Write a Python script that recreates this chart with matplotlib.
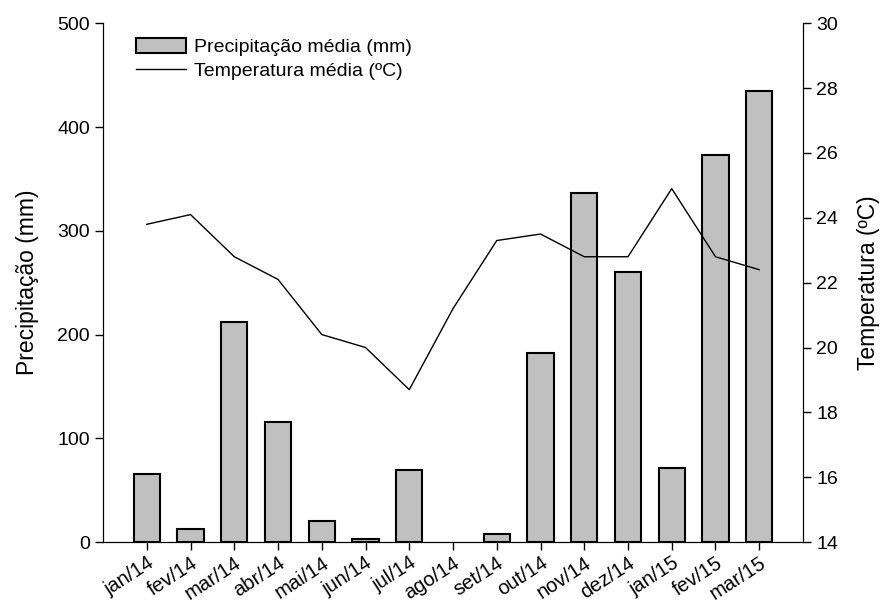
import numpy as np
import matplotlib
matplotlib.use("Agg")
import matplotlib.pyplot as plt

plt.rcParams['font.family'] = ['Liberation Sans', 'DejaVu Sans']

# Data
months = ["jan/14", "fev/14", "mar/14", "abr/14", "mai/14", "jun/14", "jul/14",
          "ago/14", "set/14", "out/14", "nov/14", "dez/14", "jan/15", "fev/15", "mar/15"]
precip = [66, 13, 212, 116, 20, 3, 69, 0, 8, 182, 336, 260, 71, 373, 435]
temp = [23.8, 24.1, 22.8, 22.1, 20.4, 20.0, 18.7, 21.2, 23.3, 23.5,
        22.8, 22.8, 24.9, 22.8, 22.4]

x = np.arange(len(months))

fig = plt.figure(figsize=(8.86, 6.04), dpi=100)
ax = fig.add_axes([0.1163, 0.1026, 0.79, 0.8588])

# zero-height bars get no outline (nothing visible in the original)
edges = ["black" if p > 0 else "none" for p in precip]
bars = ax.bar(x, precip, width=0.6, color="#c0c0c0", edgecolor=edges,
              linewidth=1.5, label="Precipitação média (mm)")
ax.set_xlim(-1, 15)
ax.set_ylim(0, 500)
ax.set_yticks(range(0, 501, 100))
ax.set_xticks(x)
ax.set_xticklabels(months, rotation=33, ha="right", rotation_mode="anchor")
ax.set_ylabel("Precipitação (mm)", fontsize=16.5, labelpad=13)
ax.tick_params(axis="both", direction="out", length=6, width=1, labelsize=14)
ax.tick_params(axis="x", pad=2, labelsize=14.5)
ax.spines["top"].set_visible(False)

ax2 = ax.twinx()
line, = ax2.plot(x, temp, color="black", linewidth=1.0, label="Temperatura média (ºC)")
ax2.set_ylim(14, 30)
ax2.set_yticks(range(14, 31, 2))
ax2.set_ylabel("Temperatura (ºC)", fontsize=16.5, labelpad=14)
ax2.tick_params(axis="y", direction="out", length=6, width=1, labelsize=14)
ax2.spines["top"].set_visible(False)

leg = ax2.legend([bars, line], [bars.get_label(), line.get_label()],
                 loc="upper left", bbox_to_anchor=(0.022, 1.005), frameon=False,
                 fontsize=14, handlelength=2.6, handleheight=0.8,
                 handletextpad=0.4, labelspacing=0.3)
leg.legend_handles[0].set_edgecolor("black")

fig.savefig("out.png", dpi=100)
